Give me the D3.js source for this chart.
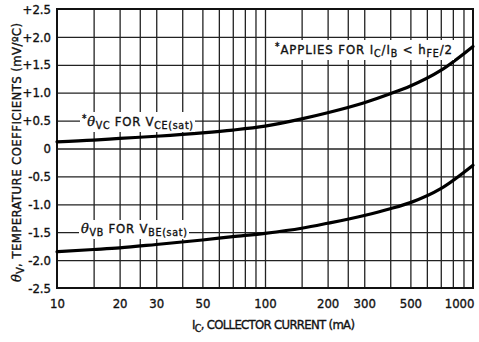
<!DOCTYPE html>
<html>
<head>
<meta charset="utf-8">
<script src="https://cdn.jsdelivr.net/npm/d3@7"></script>
<style>
  body { margin: 0; background: #fff; }
  svg { display: block; }
  text { font-family: "DejaVu Sans Condensed", "Liberation Sans Narrow", sans-serif; fill: #111; stroke: #111; stroke-width: 0.35px; }
</style>
</head>
<body>
<div id="chart"></div>
<script>
// Data (collector current in mA, coefficient in mV/degC)
const currentMA = [10, 15, 20, 30, 50, 70, 100, 150, 200, 300, 400, 500, 700, 1000];
const thetaVC =   [0.12, 0.15, 0.18, 0.22, 0.28, 0.33, 0.40, 0.53, 0.64, 0.82, 0.98, 1.12, 1.40, 1.83];
const thetaVB =   [-1.85, -1.81, -1.78, -1.72, -1.64, -1.58, -1.52, -1.43, -1.34, -1.20, -1.08, -0.97, -0.72, -0.30];

const xGrid = [15, 20, 25, 30, 40, 50, 60, 70, 80, 90, 100, 150, 200, 250, 300, 400, 500, 600, 700, 800, 900];
const xLabels = [10, 20, 30, 50, 100, 200, 300, 500, 1000];
const yTicks = [2.5, 2, 1.5, 1, 0.5, 0, -0.5, -1, -1.5, -2, -2.5];
const yTickText = ['+2.5', '+2.0', '+1.5', '+1.0', '+0.5', '0', '-0.5', '-1.0', '-1.5', '-2.0', '-2.5'];

(function() {
  'use strict';

  const W = 479, H = 342;
  const left = 57, right = 473, top = 9, bottom = 288;

  const svg = d3.select('#chart').append('svg')
    .attr('width', W).attr('height', H);

  const x = d3.scaleLog().domain([10, 1000]).range([left, right]);
  const y = d3.scaleLinear().domain([-2.5, 2.5]).range([bottom, top]);

  // vertical grid
  svg.append('g')
    .attr('transform', 'translate(0,' + bottom + ')')
    .call(d3.axisBottom(x).tickValues(xGrid).tickSize(-(bottom - top)).tickFormat(''))
    .call(g => g.select('.domain').remove())
    .call(g => g.selectAll('line').attr('stroke', '#222').attr('stroke-width', 1.3));

  // horizontal grid
  svg.append('g')
    .attr('transform', 'translate(' + left + ',0)')
    .call(d3.axisLeft(y).tickValues(yTicks.slice(1, -1)).tickSize(-(right - left)).tickFormat(''))
    .call(g => g.select('.domain').remove())
    .call(g => g.selectAll('line').attr('stroke', '#222').attr('stroke-width', 1.3));

  // frame
  svg.append('rect')
    .attr('x', left).attr('y', top)
    .attr('width', right - left).attr('height', bottom - top)
    .attr('fill', 'none').attr('stroke', '#111').attr('stroke-width', 2);

  // y tick labels
  svg.append('g')
    .attr('transform', 'translate(' + (left - 6) + ',0)')
    .call(d3.axisLeft(y).tickValues(yTicks).tickSize(0)
      .tickFormat((d, i) => yTickText[i]))
    .call(g => g.select('.domain').remove())
    .call(g => g.selectAll('text')
      .attr('x', 0)
      .style('font-size', '13px')
      .style('font-family', null)
      .attr('fill', '#111'));

  // x tick labels (last one pulled inside the frame)
  svg.append('g')
    .attr('transform', 'translate(0,' + bottom + ')')
    .call(d3.axisBottom(x).tickValues(xLabels).tickSize(0).tickFormat(d3.format('d')))
    .call(g => g.select('.domain').remove())
    .call(g => g.selectAll('text')
      .attr('y', 11)
      .style('font-size', '13px')
      .style('font-family', null)
      .attr('fill', '#111'))
    .call(g => g.selectAll('.tick').filter(d => d === 1000).select('text')
      .attr('text-anchor', 'end').attr('x', 1));

  // curves
  const line = (vals) => d3.line()
    .x((d, i) => x(currentMA[i]))
    .y(d => y(d))
    .curve(d3.curveMonotoneX)(vals);

  [thetaVC, thetaVB].forEach(function(vals) {
    svg.append('path')
      .attr('d', line(vals))
      .attr('fill', 'none')
      .attr('stroke', '#000')
      .attr('stroke-width', 3.2)
      .attr('stroke-linecap', 'round');
  });

  // labels with white backing over the grid
  function label(px, py, len, parts) {
    const g = svg.append('g');
    const bg = g.append('rect').attr('fill', '#fff');
    const t = g.append('text')
      .attr('x', px).attr('y', py)
      .attr('textLength', len)
      .style('font-size', '13px');
    parts.forEach(function(p) {
      const s = t.append('tspan').text(p.t);
      if (p.sub) s.attr('baseline-shift', '-3').style('font-size', '10.5px');
      if (p.sup) s.attr('baseline-shift', '4').style('font-size', '10px');
      if (p.it) s.style('font-style', 'italic').style('font-family', '"DejaVu Serif", serif');
    });
    const b = t.node().getBBox();
    bg.attr('x', b.x - 2).attr('y', b.y - 1)
      .attr('width', b.width + 4).attr('height', b.height + 2);
  }

  label(82, 126, 111, [
    { t: '*', sup: true }, { t: 'θ', it: true }, { t: 'VC', sub: true },
    { t: ' FOR V' }, { t: 'CE(sat)', sub: true }
  ]);

  label(81, 233, 106, [
    { t: 'θ', it: true }, { t: 'VB', sub: true },
    { t: ' FOR V' }, { t: 'BE(sat)', sub: true }
  ]);

  label(275, 54, 177, [
    { t: '*', sup: true }, { t: 'APPLIES FOR I' }, { t: 'C', sub: true },
    { t: '/I' }, { t: 'B', sub: true }, { t: ' < h' }, { t: 'FE', sub: true }, { t: '/2' }
  ]);

  // axis titles
  const xt = svg.append('text')
    .attr('x', 192).attr('y', 329)
    .attr('textLength', 163)
    .style('font-size', '13px');
  xt.append('tspan').text('I');
  xt.append('tspan').text('C').attr('baseline-shift', '-3').style('font-size', '10.5px');
  xt.append('tspan').text(', COLLECTOR CURRENT (mA)');

  const yt = svg.append('text')
    .attr('transform', 'translate(21,282) rotate(-90)')
    .attr('textLength', 259)
    .style('font-size', '13px');
  yt.append('tspan').text('θ').style('font-style', 'italic').style('font-family', '"DejaVu Serif", serif');
  yt.append('tspan').text('V').attr('baseline-shift', '-3').style('font-size', '10.5px');
  yt.append('tspan').text(', TEMPERATURE COEFFICIENTS (mV/ºC)');
})();
</script>
</body>
</html>
